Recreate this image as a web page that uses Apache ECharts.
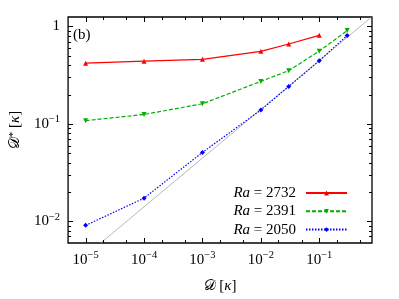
<!DOCTYPE html>
<html><head><meta charset="utf-8">
<script src="https://cdn.jsdelivr.net/npm/echarts@6/dist/echarts.min.js"></script>
<style>html,body{margin:0;padding:0;background:#fff}#c{width:399px;height:299px}</style>
</head><body><div id="c"></div>
<script>
// ---- data ----
const xRa2732 = [1e-5, 1e-4, 1e-3, 1e-2, 3e-2, 1e-1];
const yRa2732 = [0.42, 0.44, 0.46, 0.555, 0.66, 0.81];
const xRa2391 = [1e-5, 1e-4, 1e-3, 1e-2, 3e-2, 1e-1, 3e-1];
const yRa2391 = [0.108, 0.125, 0.161, 0.273, 0.352, 0.558, 0.906];
const xRa2050 = [1e-5, 1e-4, 1e-3, 1e-2, 3e-2, 1e-1, 3e-1];
const yRa2050 = [0.0091, 0.0173, 0.051, 0.139, 0.242, 0.444, 0.807];
const guideX = [1e-6, 1];
const guideY = [0.00141, 1.41];
const seriesNames = ['Ra = 2732', 'Ra = 2391', 'Ra = 2050'];
const xMajorTicks = [1e-5, 1e-4, 1e-3, 1e-2, 1e-1];
const xMinorTicks = [2e-5, 5e-5, 2e-4, 5e-4, 2e-3, 5e-3, 2e-2, 5e-2, 2e-1, 5e-1];
const yMajorTicks = [1e-2, 1e-1, 1];
const yMinorTicks = [7e-3, 8e-3, 9e-3,
  2e-2, 3e-2, 4e-2, 5e-2, 6e-2, 7e-2, 8e-2, 9e-2,
  0.2, 0.3, 0.4, 0.5, 0.6, 0.7, 0.8, 0.9];

const FF = '"Liberation Serif", "DejaVu Serif", serif';
const zip = (xs, ys) => xs.map((x, i) => [x, ys[i]]);

function powLabel(v) {
  const l = Math.log10(v);
  const e = Math.round(l);
  if (Math.abs(l - e) > 1e-6) return '';
  if (e === 0) return '{b|1}';
  return '{b|10}{s|' + (e < 0 ? '\u2212' + (-e) : e) + '}';
}
const labelRich = {
  b: {fontFamily: FF, fontSize: 15, color: '#000', lineHeight: 20},
  s: {fontFamily: FF, fontSize: 10.5, color: '#000', lineHeight: 12, verticalAlign: 'top'}
};

const tickData = [];
xMajorTicks.forEach(v => tickData.push([v, 0.1, 0]));
xMinorTicks.forEach(v => tickData.push([v, 0.1, 1]));
yMajorTicks.forEach(v => tickData.push([1e-3, v, 2]));
yMinorTicks.forEach(v => tickData.push([1e-3, v, 3]));

const chart = echarts.init(document.getElementById('c'), null, {renderer: 'canvas'});
chart.setOption({
  animation: false,
  backgroundColor: '#fff',
  grid: {left: 65, right: 27, top: 17, bottom: 50, show: true, borderColor: '#000', borderWidth: 1.3, backgroundColor: 'transparent'},
  xAxis: {
    type: 'log', logBase: 10, min: 5e-6, max: 0.8,
    axisLine: {show: false}, axisTick: {show: false}, splitLine: {show: false},
    axisLabel: {formatter: powLabel, rich: labelRich, margin: 7, showMinLabel: true, showMaxLabel: true},
    name: '{d|\uD835\uDC9F} [{k|\u03BA}]', nameLocation: 'middle', nameGap: 36,
    nameTextStyle: {rich: {d: {fontFamily: FF, fontSize: 15, color: '#000'}, k: {fontFamily: FF, fontSize: 15, fontStyle: 'italic', color: '#000'}}, fontFamily: FF, fontSize: 15, color: '#000'}
  },
  yAxis: {
    type: 'log', logBase: 10, min: 0.006, max: 1.25,
    axisLine: {show: false}, axisTick: {show: false}, splitLine: {show: false},
    axisLabel: {formatter: powLabel, rich: labelRich, margin: 8},
    name: '{d|\uD835\uDC9F}{s|*} [{k|\u03BA}]', nameLocation: 'middle', nameGap: 38, nameRotate: 90,
    nameTextStyle: {rich: {d: {fontFamily: FF, fontSize: 15, color: '#000'}, s: {fontFamily: FF, fontSize: 11, color: '#000', verticalAlign: 'top'}, k: {fontFamily: FF, fontSize: 15, fontStyle: 'italic', color: '#000'}}, fontFamily: FF, fontSize: 15, color: '#000'}
  },
  legend: {
    data: seriesNames,
    orient: 'vertical', right: 46, top: 179, align: 'right',
    itemWidth: 41, itemHeight: 6, itemGap: 0.3,
    formatter: n => '{i|Ra} = ' + n.split('= ')[1] + '{p|}',
    textStyle: {fontFamily: FF, fontSize: 15, color: '#000', lineHeight: 18,
      rich: {i: {fontFamily: FF, fontSize: 15, fontStyle: 'italic', color: '#000', lineHeight: 18}, p: {width: 5, lineHeight: 18}}}
  },
  graphic: [{type: 'text', left: 73, top: 28, style: {text: '(b)', font: '15px ' + FF, fill: '#000'}}],
  series: [
    {type: 'line', data: zip(guideX, guideY), symbol: 'none', silent: true, clip: true,
     lineStyle: {color: '#999', width: 0.7}, z: 1},
    {name: seriesNames[0], type: 'line', data: zip(xRa2732, yRa2732), symbol: 'triangle', symbolSize: 5,
     itemStyle: {color: '#ff0000'}, lineStyle: {color: '#ff0000', width: 1.2}, z: 3},
    {name: seriesNames[1], type: 'line', data: zip(xRa2391, yRa2391), symbol: 'triangle', symbolRotate: 180, symbolSize: 5,
     itemStyle: {color: '#00b000'}, lineStyle: {color: '#00b000', width: 1.2, type: [4, 2]}, z: 3},
    {name: seriesNames[2], type: 'line', data: zip(xRa2050, yRa2050), symbol: 'diamond', symbolSize: 5,
     itemStyle: {color: '#0000ff'}, lineStyle: {color: '#0000ff', width: 1.2, type: [1.5, 1.5]}, z: 3},
    {type: 'custom', data: tickData, encode: {x: 0, y: 1}, silent: true, z: 5,
     renderItem: function (params, api) {
       const cs = params.coordSys;
       const kind = api.value(2);
       const p = api.coord([api.value(0), api.value(1)]);
       const len = (kind === 0 || kind === 2) ? 5 : 3;
       const style = {stroke: '#000', lineWidth: 1};
       if (kind < 2) {
         const x = Math.round(p[0]) + 0.5;
         const b = cs.y + cs.height;
         return {type: 'group', children: [
           {type: 'line', shape: {x1: x, y1: b, x2: x, y2: b - len}, style: style},
           {type: 'line', shape: {x1: x, y1: cs.y, x2: x, y2: cs.y + len}, style: style}]};
       }
       const y = Math.round(p[1]) + 0.5;
       const r = cs.x + cs.width;
       return {type: 'group', children: [
         {type: 'line', shape: {x1: cs.x, y1: y, x2: cs.x + len, y2: y}, style: style},
         {type: 'line', shape: {x1: r, y1: y, x2: r - len, y2: y}, style: style}]};
     }}
  ]
});
</script></body></html>
